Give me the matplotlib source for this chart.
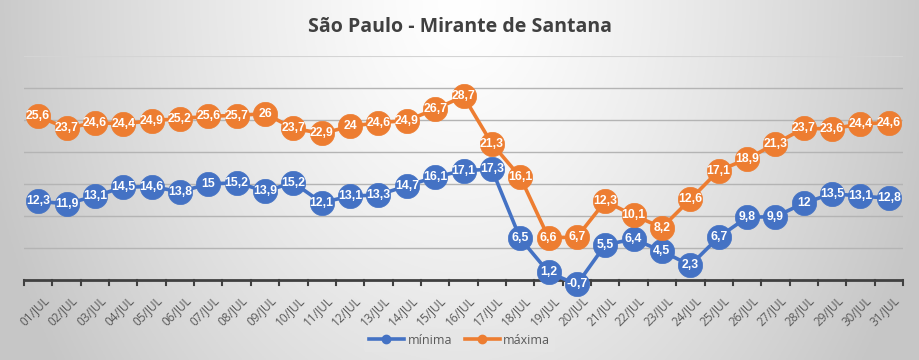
import numpy as np
import matplotlib
matplotlib.use("Agg")
import matplotlib.pyplot as plt
from matplotlib.lines import Line2D

days = [f"{d:02d}/JUL" for d in range(1, 32)]
minima = [12.3, 11.9, 13.1, 14.5, 14.6, 13.8, 15, 15.2, 13.9, 15.2, 12.1, 13.1, 13.3, 14.7, 16.1, 17.1, 17.3,
          6.5, 1.2, -0.7, 5.5, 6.4, 4.5, 2.3, 6.7, 9.8, 9.9, 12, 13.5, 13.1, 12.8]
maxima = [25.6, 23.7, 24.6, 24.4, 24.9, 25.2, 25.6, 25.7, 26, 23.7, 22.9, 24, 24.6, 24.9, 26.7, 28.7, 21.3,
          16.1, 6.6, 6.7, 12.3, 10.1, 8.2, 12.6, 17.1, 18.9, 21.3, 23.7, 23.6, 24.4, 24.6]
series_names = ["mínima", "máxima"]
title = "São Paulo - Mirante de Santana"

W, H = 919, 360
fig = plt.figure(figsize=(W / 100, H / 100), dpi=100)

# background gradient
bg = fig.add_axes([0, 0, 1, 1])
xx = np.linspace(-1, 1, 400)
yy = np.linspace(0, 1, 200)
X, Y = np.meshgrid(xx, yy)
R = np.sqrt((X * 0.95) ** 2 + (Y * 0.55) ** 2)
val = 1.0 - 0.22 * np.clip(R, 0, 1) ** 1.3
img = np.dstack([val, val, val])
bg.imshow(img, extent=[0, 1, 0, 1], aspect="auto", origin="upper")
bg.set_axis_off()

left, right = 24 / W, 903 / W
y_top, y_bot = 56, 312  # pixel rows for 35 and -5
ax = fig.add_axes([left, 1 - y_bot / H, right - left, (y_bot - y_top) / H])
ax.set_facecolor("none")
ax.patch.set_alpha(0)
x = np.arange(len(days))
ax.set_xlim(-0.5, len(days) - 0.5)
ax.set_ylim(-5, 35)

for g in range(5, 36, 5):
    if g < 35:
        ax.axhline(g, color="#b4b4b4", lw=1.0, zorder=1)
    else:
        ax.axhline(g, color="#d4d4d4", lw=0.8, zorder=1)
ax.axhline(0, color="#404040", lw=2.0, zorder=2)
for b in np.arange(-0.5, len(days), 1.0):
    ax.plot([b, b], [0, -0.8], color="#404040", lw=1.5, zorder=2, clip_on=False)

colors = ["#4472C4", "#ED7D31"]
for data, c, name in zip([minima, maxima], colors, series_names):
    ax.plot(x, data, color=c, lw=2.6, marker="o", ms=17.5, mec=c, mew=0.5, mfc=c, zorder=3, label=name)
    for xi, v in zip(x, data):
        s = f"{v:g}".replace(".", ",")
        ax.text(xi, v, s, color="white", fontsize=8.8, fontweight="bold", ha="center", va="center",
                family=["Liberation Sans", "DejaVu Sans"], zorder=4)

for sp in ax.spines.values():
    sp.set_visible(False)
ax.set_yticks([])
ax.set_xticks([])
for xi, d in zip(x, days):
    ax.annotate(d, xy=(xi, 0), xycoords="data", xytext=(3, -10), textcoords="offset points",
                rotation=45, ha="right", va="top", rotation_mode="anchor",
                fontsize=8.5, color="#595959", family=["Open Sans", "DejaVu Sans"])

fig.text(0.5, 1 - 27 / H, title, ha="center", va="center", fontsize=14, fontweight="bold",
         color="#404040", family=["Open Sans", "DejaVu Sans"])

handles = [Line2D([0], [0], color=c, lw=2.6, marker="o", ms=6) for c in colors]
leg = fig.legend(handles, series_names, loc="center", bbox_to_anchor=(0.5, 1 - 340 / H), ncol=2,
                 frameon=True, handlelength=2.8, columnspacing=1.0, handletextpad=0.3,
                 borderpad=0.4, prop={"family": ["Open Sans", "DejaVu Sans"], "size": 9})
leg.get_frame().set_facecolor("#e6e6e6")
leg.get_frame().set_edgecolor("none")
leg.get_frame().set_alpha(0.9)
for t in leg.get_texts():
    t.set_color("#595959")

fig.savefig("out.png", dpi=100)
